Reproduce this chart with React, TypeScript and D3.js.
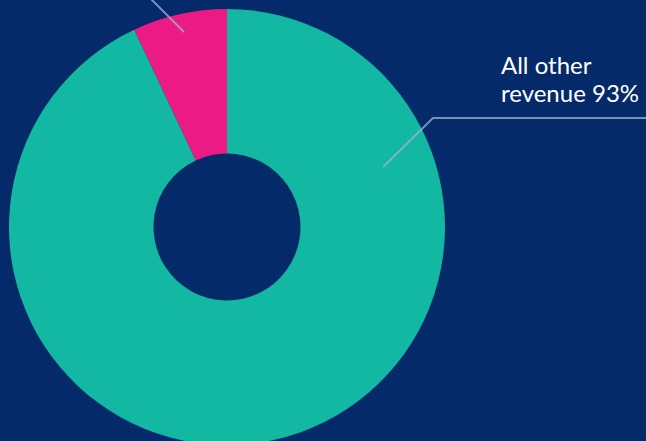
import React from "react";
import * as d3 from "d3";

const categories = ["Segment revenue", "All other revenue"];
const values = [7, 93];
const colors = ["#ec1a84", "#12b8a1"];
const labelLines = ["All other", "revenue 93%"];

const W = 646;
const H = 441;

export default function App() {
  const cx = 227;
  const cy = 227;
  const outerR = 218;
  const innerR = 73.5;

  const startA = -(values[0] / 100) * 2 * Math.PI;
  const pie = d3
    .pie<number>()
    .sort(null)
    .startAngle(startA)
    .endAngle(2 * Math.PI + startA)
    .value((d) => d);
  const arcs = pie(values);
  const arc = d3.arc<d3.PieArcDatum<number>>().innerRadius(innerR).outerRadius(outerR);

  return (
    <svg
      width={W}
      height={H}
      style={{ position: "fixed", left: 0, top: 0, display: "block" }}
    >
      <rect x={0} y={0} width={W} height={H} fill="#052a6a" />
      <g transform={`translate(${cx},${cy})`}>
        {arcs.map((a, i) => (
          <path key={categories[i]} d={arc(a) ?? ""} fill={colors[i]} />
        ))}
      </g>
      {/* leader line for the small segment (its label lies above the visible area) */}
      <polyline
        points="184,32 150,-2"
        fill="none"
        stroke="#9fb3d8"
        strokeOpacity={0.75}
        strokeWidth={2}
      />
      {/* leader line for All other revenue */}
      <polyline
        points="383,167 433,118 646,118"
        fill="none"
        stroke="#9fb3d8"
        strokeOpacity={0.75}
        strokeWidth={2}
      />
      {labelLines.map((t, i) => (
        <text
          key={t}
          x={501}
          y={74 + i * 28}
          fill="#ffffff"
          fontFamily="Lato, 'Open Sans', sans-serif"
          fontSize={24}
        >
          {t}
        </text>
      ))}
    </svg>
  );
}
